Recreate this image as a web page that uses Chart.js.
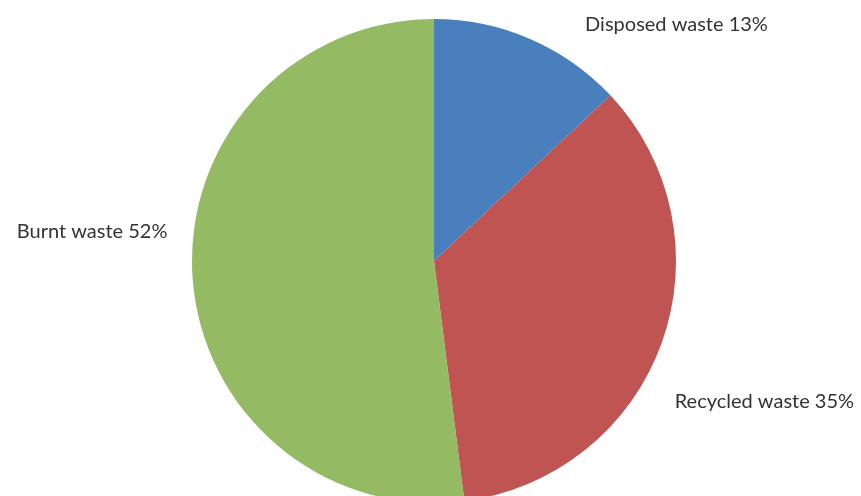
<!DOCTYPE html>
<html>
<head>
<meta charset="utf-8">
<script src="https://cdn.jsdelivr.net/npm/chart.js@4.4.1/dist/chart.umd.min.js"></script>
<style>
    html, body { margin: 0; padding: 0; background: #fff; overflow: hidden; }
    body { width: 861px; height: 496px; }
    #wrap { position: relative; width: 861px; height: 522px; }
</style>
</head>
<body>
<div id="wrap"><canvas id="waste-chart"></canvas></div>
<script>
// Waste breakdown data
const labels = ['Disposed waste', 'Recycled waste', 'Burnt waste'];
const shares = [13, 35, 52];
const colors = ['#4A7FBD', '#BF5452', '#94BA63'];
// label nudges from the slice's outer midpoint [dx, dy, align]
const labelNudges = [[55, -14, 'left'], [13, 59, 'left'], [-25, -45, 'right']];

// Draw "name NN%" labels next to each slice
const sliceLabels = {
    id: 'sliceLabels',
    afterDatasetsDraw(chart) {
        const ctx = chart.ctx;
        const meta = chart.getDatasetMeta(0);
        ctx.save();
        ctx.font = '20px Lato, "Open Sans", sans-serif';
        ctx.fillStyle = '#333333';
        ctx.textBaseline = 'middle';
        meta.data.forEach(function(arc, i) {
            const mid = (arc.startAngle + arc.endAngle) / 2;
            const x = arc.x + Math.cos(mid) * arc.outerRadius + labelNudges[i][0];
            const y = arc.y + Math.sin(mid) * arc.outerRadius + labelNudges[i][1];
            ctx.textAlign = labelNudges[i][2];
            ctx.fillText(labels[i] + ' ' + shares[i] + '%', x, y);
        });
        ctx.restore();
    }
};

const ctx = document.getElementById('waste-chart').getContext('2d');
new Chart(ctx, {
    type: 'pie',
    data: {
        labels: labels,
        datasets: [{
            data: shares,
            backgroundColor: colors,
            borderWidth: 0
        }]
    },
    options: {
        responsive: true,
        maintainAspectRatio: false,
        animation: false,
        layout: { padding: { top: 19, bottom: 19, left: 192, right: 185 } },
        plugins: {
            legend: { display: false },
            tooltip: { enabled: false }
        }
    },
    plugins: [sliceLabels]
});
</script>
</body>
</html>
